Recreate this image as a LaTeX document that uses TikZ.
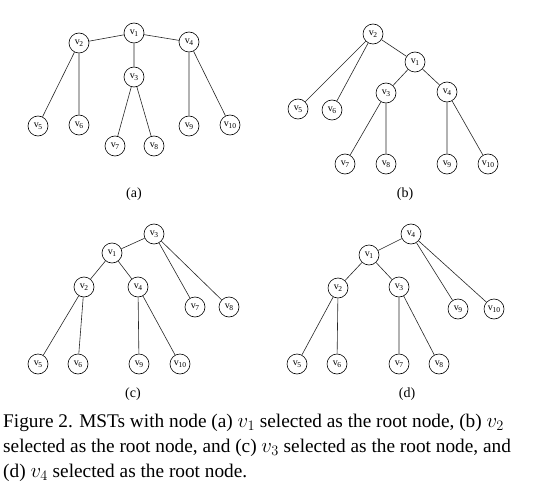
\documentclass[tikz,border=0pt]{standalone}
\usepackage{fontspec}
\setmainfont{Liberation Serif}
\newcommand\vlab[1]{v\kern-0.3pt\raisebox{-0.45ex}{\fontsize{7.5}{8}\selectfont #1}}
\tikzset{
  vx/.style={circle,draw=black,line width=0.6pt,minimum size=20pt,inner sep=0pt,font=\fontsize{10}{11}\selectfont},
  ed/.style={draw=black!85,line width=0.6pt},
  sublab/.style={font=\fontsize{14}{16}\selectfont},
  captxt/.style={anchor=base west,inner sep=0pt,font=\fontsize{19.3}{22}\selectfont}
}
\begin{document}
\begin{tikzpicture}[x=1pt,y=-1pt]
\useasboundingbox (0,0) rectangle (545,497);
% (a)
\node[vx] (a1) at (134,33) {\vlab{1}};
\node[vx] (a2) at (79,43) {\vlab{2}};
\node[vx] (a4) at (189,42) {\vlab{4}};
\node[vx] (a3) at (134,77) {\vlab{3}};
\node[vx] (a5) at (38,126) {\vlab{5}};
\node[vx] (a6) at (79,125) {\vlab{6}};
\node[vx] (a7) at (115,146) {\vlab{7}};
\node[vx] (a8) at (154,146) {\vlab{8}};
\node[vx] (a9) at (189,126) {\vlab{9}};
\node[vx] (a10) at (230,125) {\vlab{10}};
\draw[ed] (a1)--(a2) (a1)--(a4) (a1)--(a3) (a2)--(a5) (a2)--(a6) (a3)--(a7) (a3)--(a8) (a4)--(a9) (a4)--(a10);
\node[sublab] (la) at (134,194) {(a)};
% (b)
\node[vx] (b2) at (373,34) {\vlab{2}};
\node[vx] (b1) at (415,62) {\vlab{1}};
\node[vx] (b3) at (386,93) {\vlab{3}};
\node[vx] (b4) at (447,92) {\vlab{4}};
\node[vx] (b5) at (298,109) {\vlab{5}};
\node[vx] (b6) at (332,110) {\vlab{6}};
\node[vx] (b7) at (345,164) {\vlab{7}};
\node[vx] (b8) at (386,164) {\vlab{8}};
\node[vx] (b9) at (447,164) {\vlab{9}};
\node[vx] (b10) at (488,164) {\vlab{10}};
\draw[ed] (b2)--(b1) (b2)--(b5) (b2)--(b6) (b1)--(b3) (b1)--(b4) (b3)--(b7) (b3)--(b8) (b4)--(b9) (b4)--(b10);
\node[sublab] (lb) at (405,194) {(b)};
% (c)
\node[vx] (c3) at (154,234) {\vlab{3}};
\node[vx] (c1) at (112,253) {\vlab{1}};
\node[vx] (c2) at (84,287) {\vlab{2}};
\node[vx] (c4) at (138,287) {\vlab{4}};
\node[vx] (c7) at (195,307) {\vlab{7}};
\node[vx] (c8) at (229,307) {\vlab{8}};
\node[vx] (c5) at (38,364) {\vlab{5}};
\node[vx] (c6) at (78,364) {\vlab{6}};
\node[vx] (c9) at (139,364) {\vlab{9}};
\node[vx] (c10) at (180,364) {\vlab{10}};
\draw[ed] (c3)--(c1) (c3)--(c7) (c3)--(c8) (c1)--(c2) (c1)--(c4) (c2)--(c5) (c2)--(c6) (c4)--(c9) (c4)--(c10);
\node[sublab] (lc) at (133,394) {(c)};
% (d)
\node[vx] (d4) at (411,234) {\vlab{4}};
\node[vx] (d1) at (369,255) {\vlab{1}};
\node[vx] (d2) at (338,288) {\vlab{2}};
\node[vx] (d3) at (399,287) {\vlab{3}};
\node[vx] (d9) at (458,309) {\vlab{9}};
\node[vx] (d10) at (494,309) {\vlab{10}};
\node[vx] (d5) at (297,364) {\vlab{5}};
\node[vx] (d6) at (337,364) {\vlab{6}};
\node[vx] (d7) at (399,364) {\vlab{7}};
\node[vx] (d8) at (439,364) {\vlab{8}};
\draw[ed] (d4)--(d1) (d4)--(d9) (d4)--(d10) (d1)--(d2) (d1)--(d3) (d2)--(d5) (d2)--(d6) (d3)--(d7) (d3)--(d8);
\node[sublab] (ld) at (407,394) {(d)};
% caption
\node[captxt] (cap1) at (3,427) {Figure 2. MSTs with node (a) $v_1$ selected as the root node, (b) $v_2$};
\node[captxt] (cap2) at (3,452) {selected as the root node, and (c) $v_3$ selected as the root node, and};
\node[captxt] (cap3) at (3,477) {(d) $v_4$ selected as the root node.};
\end{tikzpicture}
\end{document}
